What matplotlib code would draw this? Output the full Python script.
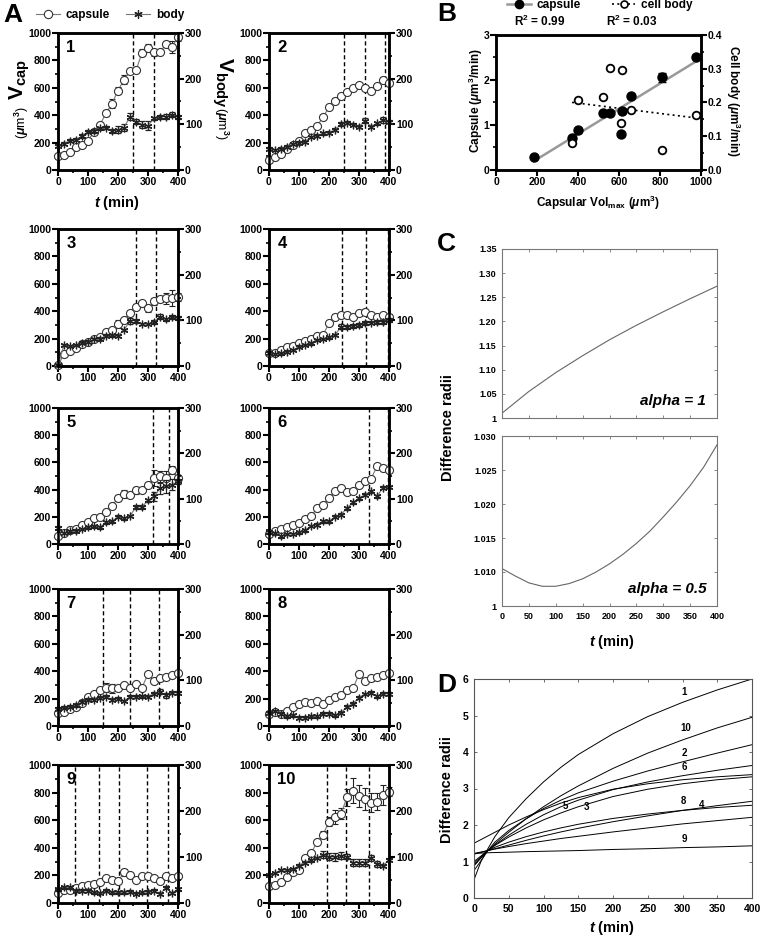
"""
Capsule / cell body growth of 10 cells (A), rate vs capsule size (B),
and model difference radii curves (C, D).

Outputs:
    out.png
"""

import matplotlib

matplotlib.use("Agg")
import matplotlib.pyplot as plt
import numpy as np
from matplotlib.lines import Line2D
from matplotlib.ticker import FixedLocator, MultipleLocator

plt.rcParams["font.family"] = ["Liberation Sans", "DejaVu Sans"]
plt.rcParams["font.weight"] = "bold"
plt.rcParams["axes.labelweight"] = "bold"
plt.rcParams["mathtext.fontset"] = "custom"
plt.rcParams["mathtext.rm"] = "Liberation Sans"
plt.rcParams["mathtext.it"] = "Liberation Sans:italic:bold"
plt.rcParams["mathtext.bf"] = "Liberation Sans:bold"

W, H = 760, 940

# --- Panel A: time course (min) ---
t_min = [0, 20, 40, 60, 80, 100, 120, 140, 160, 180, 200,
         220, 240, 260, 280, 300, 320, 340, 360, 380, 400]

cap_1 = [100, 110, 135, 170, 185, 215, 280, 330, 415, 485, 580,
         660, 725, 727, 855, 890, 860, 860, 920, 900, 970]
cap_err_1 = [10, 10, 10, 10, 15, 15, 12, 15, 20, 30, 25,
             30, 15, 10, 25, 30, 25, 15, 20, 45, 25]
body_1 = [53, 58, 64, 66, 75, 84, 86, 91, 93, 86, 88,
          93, 117, 106, 99, 97, 113, 116, 117, 121, 116]
body_err_1 = [3, 3, 3, 3, 4, 4, 4, 4, 4, 4, 8, 8, 8, 5, 8, 10, 4, 4, 6, 6, 4]
cuts_1 = [250, 320]

cap_2 = [73, 93, 117, 151, 183, 215, 273, 293, 322, 385, 459,
         507, 541, 566, 598, 622, 602, 580, 615, 659, 634]
cap_err_2 = [10, 10, 10, 10, 10, 10, 10, 10, 15, 10, 15,
             20, 15, 10, 10, 15, 15, 15, 15, 20, 15]
body_2 = [47, 44, 47, 51, 57, 60, 62, 72, 75, 80, 82,
          88, 101, 104, 99, 95, 108, 95, 102, 110, 106]
body_err_2 = [3, 3, 3, 3, 3, 3, 3, 3, 3, 3, 3, 3, 4, 4, 3, 3, 6, 3, 4, 6, 4]
cuts_2 = [251, 321, 386]

cap_3 = [5, 88, 112, 129, 161, 173, 195, 215, 251, 263, 307,
         337, 390, 434, 459, 422, 471, 488, 495, 495, 502]
cap_err_3 = [5, 10, 10, 10, 10, 10, 10, 10, 10, 10, 30,
             10, 10, 15, 10, 25, 25, 20, 40, 60, 30]
body_3 = [2, 46, 44, 46, 51, 53, 59, 60, 66, 67, 66,
          79, 99, 99, 92, 92, 97, 108, 102, 107, 105]
body_err_3 = [1, 3, 3, 3, 3, 3, 3, 3, 3, 3, 3, 3, 6, 5, 3, 3, 4, 6, 4, 4, 4]
cuts_3 = [260, 327]

cap_4 = [93, 93, 117, 137, 146, 171, 185, 195, 220, 227, 312,
         361, 373, 373, 361, 385, 395, 373, 361, 373, 361]
cap_err_4 = [10, 10, 10, 10, 10, 10, 10, 10, 10, 10, 15,
             15, 15, 15, 15, 15, 20, 15, 15, 15, 15]
body_4 = [29, 26, 28, 31, 35, 42, 46, 50, 57, 59, 63,
          68, 86, 86, 88, 90, 94, 95, 97, 97, 101]
body_err_4 = [3, 3, 3, 3, 3, 3, 3, 3, 3, 3, 3, 3, 5, 4, 4, 4, 4, 4, 4, 4, 4]
cuts_4 = [242, 323, 398]

cap_5 = [56, 81, 105, 110, 137, 159, 191, 196, 233, 282, 338,
         370, 363, 395, 395, 436, 485, 498, 485, 547, 485]
cap_err_5 = [10, 10, 10, 10, 10, 10, 10, 10, 15, 15, 20,
             30, 15, 25, 15, 20, 60, 40, 50, 30, 20]
body_5 = [35, 24, 28, 29, 33, 37, 39, 37, 48, 50, 60,
          57, 62, 82, 82, 96, 105, 123, 127, 131, 138]
body_err_5 = [4, 3, 3, 3, 3, 3, 3, 3, 3, 3, 3, 3, 3, 4, 4, 4, 10, 12, 15, 12, 6]
cuts_5 = [316, 371]

cap_6 = [76, 93, 110, 125, 137, 154, 184, 203, 265, 289, 338,
         387, 412, 380, 387, 436, 461, 478, 571, 559, 547]
cap_err_6 = [10, 10, 10, 10, 10, 10, 10, 10, 10, 10, 15,
             15, 15, 15, 10, 10, 15, 15, 15, 15, 15]
body_6 = [26, 24, 17, 22, 22, 26, 30, 40, 43, 50, 50,
          60, 65, 79, 92, 101, 109, 116, 105, 124, 126]
body_err_6 = [3, 3, 3, 3, 3, 3, 3, 3, 3, 3, 3, 3, 3, 3, 3, 3, 3, 3, 3, 3, 3]
cuts_6 = [333, 395]

cap_7 = [95, 103, 127, 139, 169, 213, 232, 262, 281, 274, 281,
         298, 279, 310, 281, 379, 330, 347, 359, 372, 384]
cap_err_7 = [10, 10, 10, 10, 10, 10, 10, 10, 30, 30, 10,
             10, 10, 10, 10, 10, 10, 20, 10, 10, 10]
body_7 = [38, 40, 42, 45, 53, 58, 58, 62, 64, 58, 60,
          55, 64, 64, 65, 64, 71, 75, 67, 73, 73]
body_err_7 = [3, 3, 3, 3, 3, 3, 3, 3, 3, 3, 3, 3, 3, 3, 3, 3, 3, 5, 5, 3, 3]
cuts_7 = [151, 241, 336]

cap_8 = [90, 103, 90, 108, 139, 164, 176, 169, 183, 164, 193,
         213, 225, 262, 274, 379, 330, 347, 359, 372, 384]
cap_err_8 = [10, 10, 10, 10, 10, 10, 10, 10, 10, 10, 10,
             10, 10, 10, 10, 10, 10, 15, 10, 10, 10]
body_8 = [29, 33, 27, 21, 23, 18, 18, 21, 21, 27, 27,
          23, 29, 42, 49, 62, 70, 73, 65, 71, 71]
body_err_8 = [3, 3, 3, 3, 3, 3, 3, 3, 3, 3, 3, 3, 3, 3, 3, 3, 3, 3, 3, 3, 3]
cuts_8 = []

cap_9 = [72, 92, 96, 108, 120, 133, 140, 149, 181, 164, 157,
         222, 205, 169, 193, 193, 181, 157, 193, 181, 198]
cap_err_9 = [10, 10, 10, 10, 10, 10, 10, 10, 10, 10, 10,
             25, 10, 10, 10, 10, 10, 10, 10, 10, 10]
body_9 = [30, 34, 34, 27, 27, 27, 23, 22, 27, 23, 23,
          23, 25, 20, 23, 25, 27, 20, 33, 22, 30]
body_err_9 = [3, 3, 3, 3, 3, 3, 3, 3, 3, 3, 3, 3, 3, 3, 3, 3, 3, 3, 3, 3, 3]
cuts_9 = [56, 136, 204, 297, 367]

cap_10 = [120, 128, 149, 188, 222, 241, 325, 361, 439, 494, 590,
          622, 646, 766, 814, 776, 752, 728, 735, 783, 807]
cap_err_10 = [10, 10, 10, 10, 10, 10, 15, 15, 15, 25, 30,
              50, 40, 60, 90, 80, 80, 70, 60, 70, 30]
body_10 = [61, 65, 72, 72, 74, 81, 88, 93, 98, 105, 101,
           100, 103, 101, 88, 88, 88, 98, 85, 81, 94]
body_err_10 = [3, 3, 3, 3, 3, 3, 3, 3, 3, 8, 8, 8, 8, 6, 8, 8, 8, 6, 6, 3, 3]
cuts_10 = [194, 258, 333]

# --- Panel B: growth rate vs maximal capsule volume ---
vol_cap = [185, 371, 400, 522, 554, 613, 611, 657, 811, 974]
rate_cap = [0.29, 0.71, 0.88, 1.27, 1.27, 1.30, 0.81, 1.65, 2.06, 2.52]
rate_cap_err = [0, 0, 0, 0, 0, 0, 0, 0, 0.10, 0]
vol_body = [371, 400, 522, 558, 613, 610, 657, 811, 974]
rate_body = [0.079, 0.208, 0.215, 0.302, 0.295, 0.140, 0.177, 0.059, 0.162]

# --- Panel C: model, alpha = 1 and alpha = 0.5 ---
c_t1 = [0, 50, 100, 150, 200, 250, 300, 350, 400]
c_r1 = [1.010, 1.055, 1.094, 1.129, 1.162, 1.192, 1.220, 1.247, 1.273]
c_t2 = [0, 25, 50, 75, 100, 125, 150, 175, 200, 225, 250,
        275, 300, 325, 350, 375, 400]
c_r2 = [1.0105, 1.0094, 1.0084, 1.0079, 1.0079, 1.0083, 1.0090, 1.0100,
        1.0112, 1.0126, 1.0142, 1.0160, 1.0181, 1.0203, 1.0227, 1.0254,
        1.0287]

# --- Panel D: fitted difference radii for each cell ---
d_t = [0, 10, 20, 30, 50, 75, 100, 125, 150, 200, 250, 300, 350, 400]
d_1 = [0.50, 1.00, 1.35, 1.68, 2.20, 2.72, 3.18, 3.58, 3.93, 4.50, 4.97, 5.36, 5.70, 6.00]
d_2 = [0.75, 1.02, 1.30, 1.53, 1.85, 2.17, 2.45, 2.68, 2.88, 3.20, 3.48, 3.73, 3.97, 4.20]
d_3 = [0.88, 1.10, 1.30, 1.44, 1.67, 1.92, 2.14, 2.33, 2.50, 2.78, 2.98, 3.13, 3.24, 3.32]
d_4 = [0.95, 1.13, 1.30, 1.39, 1.53, 1.68, 1.81, 1.92, 2.02, 2.18, 2.30, 2.40, 2.48, 2.54]
d_5 = [1.50, 1.60, 1.70, 1.80, 2.00, 2.22, 2.42, 2.60, 2.75, 2.98, 3.13, 3.24, 3.32, 3.38]
d_6 = [1.00, 1.15, 1.30, 1.45, 1.72, 2.02, 2.28, 2.50, 2.68, 2.97, 3.18, 3.35, 3.50, 3.63]
d_7 = [1.20, 1.25, 1.30, 1.34, 1.41, 1.49, 1.56, 1.63, 1.69, 1.81, 1.92, 2.03, 2.12, 2.21]
d_8 = [1.22, 1.26, 1.30, 1.35, 1.45, 1.58, 1.70, 1.81, 1.91, 2.09, 2.25, 2.40, 2.53, 2.65]
d_9 = [1.22, 1.23, 1.24, 1.245, 1.255, 1.27, 1.28, 1.29, 1.30, 1.33, 1.35, 1.38, 1.40, 1.43]
d_10 = [0.90, 1.10, 1.30, 1.48, 1.80, 2.17, 2.50, 2.80, 3.07, 3.55, 3.97, 4.33, 4.66, 4.95]
d_label_pos = {
    "1": (302, 5.50), "10": (305, 4.52), "2": (303, 3.83), "6": (303, 3.44),
    "5": (132, 2.39), "3": (162, 2.35), "8": (302, 2.51), "4": (327, 2.42),
    "9": (302, 1.49),
}


def rect(left, top, right, bottom):
    """Pixel box -> figure fraction rect."""
    return [left / W, 1 - bottom / H, (right - left) / W, (bottom - top) / H]


def px(x, y):
    return x / W, 1 - y / H


def draw_growth(fig, box, num, cap, cap_err, body, body_err, cuts):
    ax = fig.add_axes(rect(*box))
    ax2 = ax.twinx()

    ax.errorbar(t_min, cap, yerr=cap_err, fmt="o-", color="#777", lw=0.8,
                mfc="white", mec="#333", ms=5.8, mew=0.8, ecolor="#222",
                elinewidth=0.8, capsize=2, clip_on=False, zorder=3)
    ax2.errorbar(t_min, body, yerr=body_err, fmt="-", marker=(6, 2, 0),
                 color="#777", lw=0.8, mec="#222", ms=5.5, mew=0.9,
                 ecolor="#222", elinewidth=0.8, capsize=2, clip_on=False)
    for c in cuts:
        ax.axvline(c, color="k", ls=(0, (3, 2)), lw=1.0, zorder=1)

    ax.set_xlim(0, 400)
    ax.set_ylim(0, 1000)
    ax2.set_ylim(0, 300)
    ax.xaxis.set_major_locator(MultipleLocator(100))
    ax.xaxis.set_minor_locator(MultipleLocator(50))
    ax.yaxis.set_major_locator(MultipleLocator(200))
    ax.yaxis.set_minor_locator(MultipleLocator(100))
    ax2.yaxis.set_major_locator(MultipleLocator(100))
    ax2.yaxis.set_minor_locator(MultipleLocator(50))
    for a in (ax, ax2):
        for sp in a.spines.values():
            sp.set_linewidth(1.8)
        a.tick_params(which="major", direction="out", length=4, width=1.5,
                      labelsize=7.5, pad=1)
        a.tick_params(which="minor", direction="out", length=2.5, width=1.2)
    ax.text(0.07, 0.95, str(num), transform=ax.transAxes, fontsize=12,
            fontweight="bold", va="top", ha="left")
    return ax


def main() -> None:
    fig = plt.figure(figsize=(W / 100, H / 100), dpi=100)

    # --- A: ten growth panels ---
    cols = [(58, 178), (269, 389)]
    rows = [(33, 170), (229, 366), (408, 544), (589, 726), (765, 903)]
    panels = [
        (cap_1, cap_err_1, body_1, body_err_1, cuts_1),
        (cap_2, cap_err_2, body_2, body_err_2, cuts_2),
        (cap_3, cap_err_3, body_3, body_err_3, cuts_3),
        (cap_4, cap_err_4, body_4, body_err_4, cuts_4),
        (cap_5, cap_err_5, body_5, body_err_5, cuts_5),
        (cap_6, cap_err_6, body_6, body_err_6, cuts_6),
        (cap_7, cap_err_7, body_7, body_err_7, cuts_7),
        (cap_8, cap_err_8, body_8, body_err_8, cuts_8),
        (cap_9, cap_err_9, body_9, body_err_9, cuts_9),
        (cap_10, cap_err_10, body_10, body_err_10, cuts_10),
    ]
    for i, p in enumerate(panels):
        (l, r), (t, b) = cols[i % 2], rows[i // 2]
        draw_growth(fig, (l, t, r, b), i + 1, *p)

    fig.text(*px(20, 80), r"$\mathbf{V}_{\mathbf{cap}}$", rotation=90,
             fontsize=15, ha="center", va="center")
    fig.text(*px(22, 123), r"($\mu$m$^3$)", rotation=90, fontsize=9,
             fontweight="normal", ha="center", va="center")
    fig.text(*px(222, 82), r"$\mathbf{V}_{\mathbf{body}}$", rotation=-90,
             fontsize=15, ha="center", va="center")
    fig.text(*px(221, 123), r"($\mu$m$^3$)", rotation=-90, fontsize=9,
             fontweight="normal", ha="center", va="center")
    fig.text(*px(117, 203), r"$\mathit{t}$ (min)", fontsize=10.5,
             ha="center", va="center")

    leg_a = [
        Line2D([], [], color="#777", lw=0.8, marker="o", mfc="white",
               mec="#333", ms=6, mew=0.8),
        Line2D([], [], color="#777", lw=0.8, marker=(6, 2, 0), mec="#222",
               ms=6, mew=0.9),
    ]
    fig.legend(leg_a, ["capsule", "body"], loc="center",
               bbox_to_anchor=px(110, 15), ncol=2, frameon=False,
               fontsize=8.5, handlelength=2.0, columnspacing=1.4,
               handletextpad=0.5)

    # --- B: rates vs capsular volume ---
    axb = fig.add_axes(rect(496, 35, 701, 170))
    axb2 = axb.twinx()
    fit_c = np.polyfit(vol_cap, rate_cap, 1)
    xs_c = np.array([min(vol_cap), max(vol_cap)])
    axb.plot(xs_c, np.polyval(fit_c, xs_c), color="#999", lw=1.8, zorder=2)
    axb.errorbar(vol_cap, rate_cap, yerr=rate_cap_err, fmt="o", color="k",
                 ms=6.5, capsize=3, elinewidth=1.2, zorder=3)
    fit_b = np.polyfit(vol_body, rate_body, 1)
    xs_b = np.array([min(vol_body), max(vol_body)])
    axb2.plot(xs_b, np.polyval(fit_b, xs_b), color="k", ls=(0, (1.2, 2)),
              lw=1.2)
    axb2.plot(vol_body, rate_body, "o", mfc="white", mec="k", ms=5.5,
              mew=1.3, clip_on=False)
    axb.set_xlim(0, 1000)
    axb.set_ylim(0, 3)
    axb2.set_ylim(0, 0.4)
    axb.xaxis.set_major_locator(MultipleLocator(200))
    axb.yaxis.set_major_locator(MultipleLocator(1))
    axb.yaxis.set_minor_locator(MultipleLocator(0.5))
    axb2.yaxis.set_major_locator(MultipleLocator(0.1))
    axb2.yaxis.set_minor_locator(MultipleLocator(0.05))
    axb2.set_yticklabels([f"{v:.1f}" for v in axb2.get_yticks()])
    for a in (axb, axb2):
        for sp in a.spines.values():
            sp.set_linewidth(1.8)
        a.tick_params(which="major", direction="out", length=4, width=1.5,
                      labelsize=7.5, pad=1)
        a.tick_params(which="minor", direction="out", length=2.5, width=1.2)

    fig.text(*px(476, 101), r"Capsule ($\mu$m$^3$/min)", rotation=90,
             fontsize=8.5, ha="center", va="center")
    fig.text(*px(733, 101), r"Cell body ($\mu$m$^3$/min)", rotation=-90,
             fontsize=8.5, ha="center", va="center")
    fig.text(*px(598, 203),
             r"Capsular Vol$_{\mathbf{max}}$ ($\mu$m$^3$)", fontsize=8.5,
             ha="center", va="center")

    leg_b = [
        Line2D([], [], color="#999", lw=1.8, marker="o", mfc="k", mec="k",
               ms=6),
        Line2D([], [], color="k", ls=(0, (1.2, 2)), lw=1.2, marker="o",
               mfc="white", mec="k", ms=5, mew=1.2),
    ]
    fig.legend(leg_b, ["capsule", "cell body"], loc="center",
               bbox_to_anchor=px(600, 5), ncol=2, frameon=False,
               fontsize=8.5, handlelength=2.0, columnspacing=2.6,
               handletextpad=0.5)
    fig.text(*px(540, 21), r"R$^2$ = 0.99", fontsize=8.5, ha="center",
             va="center")
    fig.text(*px(632, 21), r"R$^2$ = 0.03", fontsize=8.5, ha="center",
             va="center")

    # --- C: model curves for two alpha values ---
    axc1 = fig.add_axes(rect(502, 249, 717, 418))
    axc2 = fig.add_axes(rect(502, 436, 717, 606))
    axc1.plot(c_t1, c_r1, color="#666", lw=0.8)
    axc2.plot(c_t2, c_r2, color="#666", lw=0.8)
    axc1.set_ylim(1.0, 1.35)
    axc2.set_ylim(1.005, 1.030)
    c1_ticks = [1.0, 1.05, 1.10, 1.15, 1.20, 1.25, 1.30, 1.35]
    c2_ticks = [1.005, 1.010, 1.015, 1.020, 1.025, 1.030]
    axc1.yaxis.set_major_locator(FixedLocator(c1_ticks))
    axc1.set_yticklabels(["1"] + [f"{v:.2f}" for v in c1_ticks[1:]])
    axc2.yaxis.set_major_locator(FixedLocator(c2_ticks))
    axc2.set_yticklabels(["1"] + [f"{v:.3f}" for v in c2_ticks[1:]])
    for a in (axc1, axc2):
        a.set_xlim(0, 400)
        a.xaxis.set_major_locator(MultipleLocator(50))
        for sp in a.spines.values():
            sp.set_linewidth(0.8)
            sp.set_color("#777")
        a.tick_params(direction="in", length=2.5, width=0.6, color="#777",
                      top=True, right=True, labelsize=6.5, pad=4)
    axc1.tick_params(labelbottom=False)
    axc1.text(0.95, 0.1, "alpha = 1", transform=axc1.transAxes,
              fontsize=11, fontstyle="italic", ha="right", va="center")
    axc2.text(0.95, 0.1, "alpha = 0.5", transform=axc2.transAxes,
              fontsize=11, fontstyle="italic", ha="right", va="center")
    fig.text(*px(448, 428), "Difference radii", rotation=90, fontsize=10.5,
             ha="center", va="center")
    fig.text(*px(612, 642), r"$\mathit{t}$ (min)", fontsize=10.5,
             ha="center", va="center")

    # --- D: difference radii per cell ---
    axd = fig.add_axes(rect(474, 679, 752, 898))
    for curve in (d_1, d_2, d_3, d_4, d_5, d_6, d_7, d_8, d_9, d_10):
        axd.plot(d_t, curve, color="k", lw=0.7)
    for lab, (x, y) in d_label_pos.items():
        axd.text(x, y, lab, fontsize=7, ha="center", va="bottom")
    axd.set_xlim(0, 400)
    axd.set_ylim(0, 6)
    axd.xaxis.set_major_locator(MultipleLocator(50))
    axd.yaxis.set_major_locator(MultipleLocator(1))
    for sp in axd.spines.values():
        sp.set_linewidth(0.8)
        sp.set_color("#555")
    axd.tick_params(direction="in", length=2.5, width=0.6, color="#555",
                    top=True, right=True, labelsize=7.5, pad=4)
    fig.text(*px(447, 790), "Difference radii", rotation=90, fontsize=10.5,
             ha="center", va="center")
    fig.text(*px(612, 928), r"$\mathit{t}$ (min)", fontsize=10.5,
             ha="center", va="center")

    # --- panel letters ---
    for letter, (x, y) in {"A": (3, 3), "B": (437, 2), "C": (437, 232),
                           "D": (437, 673)}.items():
        fig.text(*px(x, y), letter, fontsize=19, fontweight="bold",
                 ha="left", va="top")

    fig.savefig("out.png", dpi=100)
    plt.close(fig)


if __name__ == "__main__":
    main()
